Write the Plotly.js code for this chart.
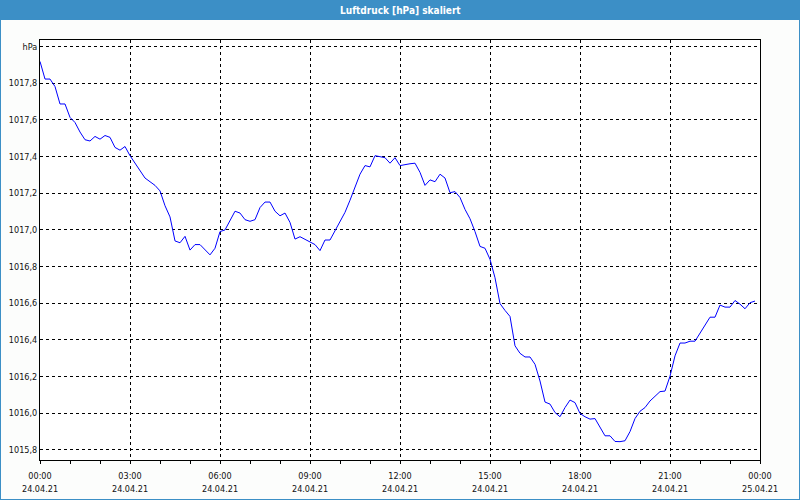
<!DOCTYPE html>
<html>
<head>
<meta charset="utf-8">
<script src="https://cdn.plot.ly/plotly-3.0.1.min.js"></script>
<style>
  html, body { margin: 0; padding: 0; background: #fcfdfc; }
  #chart { width: 800px; height: 500px; }
</style>
</head>
<body>
<div id="chart"></div>
<script>
// ---- data ----
const chartTitle = "Luftdruck [hPa] skaliert";
const startTime = "2021-04-24T00:00:00";
const stepMinutes = 10;
const pressure = [
  1017.919, 1017.823, 1017.823, 1017.782, 1017.687, 1017.687, 1017.614, 1017.586, 1017.534, 1017.492,
  1017.485, 1017.510, 1017.495, 1017.515, 1017.505, 1017.450, 1017.435, 1017.455, 1017.405, 1017.364,
  1017.324, 1017.283, 1017.263, 1017.243, 1017.213, 1017.132, 1017.071, 1016.940, 1016.930, 1016.965,
  1016.890, 1016.920, 1016.920, 1016.890, 1016.864, 1016.900, 1016.991, 1017.000, 1017.051, 1017.102,
  1017.092, 1017.056, 1017.047, 1017.056, 1017.122, 1017.152, 1017.152, 1017.102, 1017.077, 1017.092,
  1017.041, 1016.950, 1016.963, 1016.950, 1016.935, 1016.920, 1016.887, 1016.945, 1016.945, 1016.996,
  1017.051, 1017.096, 1017.162, 1017.233, 1017.304, 1017.351, 1017.344, 1017.405, 1017.400, 1017.394,
  1017.364, 1017.394, 1017.351, 1017.358, 1017.361, 1017.364, 1017.314, 1017.243, 1017.273, 1017.263,
  1017.304, 1017.283, 1017.203, 1017.209, 1017.177, 1017.112, 1017.061, 1016.991, 1016.910, 1016.900,
  1016.840, 1016.739, 1016.598, 1016.561, 1016.528, 1016.368, 1016.327, 1016.307, 1016.307, 1016.267,
  1016.176, 1016.061, 1016.050, 1016.004, 1015.981, 1016.031, 1016.072, 1016.058, 1015.999, 1015.981,
  1015.968, 1015.971, 1015.921, 1015.877, 1015.877, 1015.846, 1015.845, 1015.850, 1015.900, 1015.971,
  1016.011, 1016.031, 1016.067, 1016.091, 1016.118, 1016.121, 1016.202, 1016.313, 1016.383, 1016.383,
  1016.393, 1016.393, 1016.439, 1016.480, 1016.524, 1016.524, 1016.590, 1016.579, 1016.579, 1016.615,
  1016.595, 1016.570, 1016.603, 1016.612
];
const xTickVals = ["2021-04-24 00:00", "2021-04-24 03:00", "2021-04-24 06:00", "2021-04-24 09:00",
  "2021-04-24 12:00", "2021-04-24 15:00", "2021-04-24 18:00", "2021-04-24 21:00", "2021-04-25 00:00"];
const xTickTime = ["00:00", "03:00", "06:00", "09:00", "12:00", "15:00", "18:00", "21:00", "00:00"];
const xTickDate = ["24.04.21", "24.04.21", "24.04.21", "24.04.21", "24.04.21", "24.04.21", "24.04.21", "24.04.21", "25.04.21"];
const yTickVals = [1015.8, 1016.0, 1016.2, 1016.4, 1016.6, 1016.8, 1017.0, 1017.2, 1017.4, 1017.6, 1017.8, 1018.0];
const yTickText = ["1015,8", "1016,0", "1016,2", "1016,4", "1016,6", "1016,8", "1017,0", "1017,2", "1017,4", "1017,6", "1017,8", "hPa"];

// ---- build time axis ----
function pad(n) { return String(n).padStart(2, "0"); }
const t0 = new Date(startTime + "Z").getTime();
const times = pressure.map((_, i) => {
  const d = new Date(t0 + i * stepMinutes * 60000);
  return d.getUTCFullYear() + "-" + pad(d.getUTCMonth() + 1) + "-" + pad(d.getUTCDate()) + " " +
         pad(d.getUTCHours()) + ":" + pad(d.getUTCMinutes());
});

// ---- layout helpers (pixel -> paper) ----
const W = 800, H = 500, M = { l: 40, r: 40, t: 40, b: 40 };
const pw = W - M.l - M.r, ph = H - M.t - M.b;
const px = x => (x - M.l) / pw;
const py = y => 1 - (y - M.t) / ph;

const font = "'DejaVu Sans Condensed', 'DejaVu Sans', sans-serif";
const blue = "#3c8fc6";
const textColor = "#111111";

const trace = {
  x: times,
  y: pressure,
  type: "scatter",
  mode: "lines",
  line: { color: "#0000ff", width: 1 },
  hoverinfo: "skip"
};

const dateAnnotations = xTickVals.map((v, i) => ({
  text: xTickDate[i], xref: "x", yref: "paper", x: v, y: py(489),
  xanchor: "center", yanchor: "middle", showarrow: false,
  font: { family: font, size: 9, color: textColor }
}));

const layout = {
  width: W, height: H,
  margin: M,
  paper_bgcolor: "#fcfdfc",
  plot_bgcolor: "#ffffff",
  showlegend: false,
  font: { family: font, size: 9, color: textColor },
  xaxis: {
    type: "date",
    range: ["2021-04-24 00:00", "2021-04-25 00:00"],
    tickmode: "array",
    tickvals: xTickVals,
    ticktext: xTickTime,
    ticks: "outside", ticklen: 3, tickcolor: "#000", tickwidth: 1,
    ticklabelstandoff: 4,
    minor: { dtick: 3600000, ticks: "outside", ticklen: 3, tickcolor: "#000", showgrid: false },
    showgrid: true, gridcolor: "#000", griddash: "3px,3px", gridwidth: 1,
    showline: true, linecolor: "#000", linewidth: 1, mirror: true,
    zeroline: false,
    tickfont: { family: font, size: 9, color: textColor },
    fixedrange: true
  },
  yaxis: {
    range: [1015.745, 1018.036],
    tickmode: "array",
    tickvals: yTickVals,
    ticktext: yTickText,
    ticks: "", ticklen: 0,
    showgrid: true, gridcolor: "#000", griddash: "3px,3px", gridwidth: 1,
    showline: true, linecolor: "#000", linewidth: 1, mirror: true,
    zeroline: false,
    tickfont: { family: font, size: 9, color: textColor },
    fixedrange: true
  },
  shapes: [
    { type: "rect", xref: "paper", yref: "paper", layer: "below",
      x0: px(0), x1: px(W), y0: py(20), y1: py(0),
      fillcolor: blue, line: { width: 0 } },
    { type: "rect", xref: "paper", yref: "paper", layer: "above",
      x0: px(0), x1: px(W), y0: py(H), y1: py(0),
      fillcolor: "rgba(0,0,0,0)", line: { color: blue, width: 2 } }
  ],
  annotations: [
    { text: "<b>" + chartTitle + "</b>", xref: "paper", yref: "paper",
      x: px(W / 2), y: py(10), xanchor: "center", yanchor: "middle",
      showarrow: false, font: { family: font, size: 10, color: "#ffffff" } }
  ].concat(dateAnnotations)
};

Plotly.newPlot("chart", [trace], layout, { displayModeBar: false, staticPlot: true });
</script>
</body>
</html>
